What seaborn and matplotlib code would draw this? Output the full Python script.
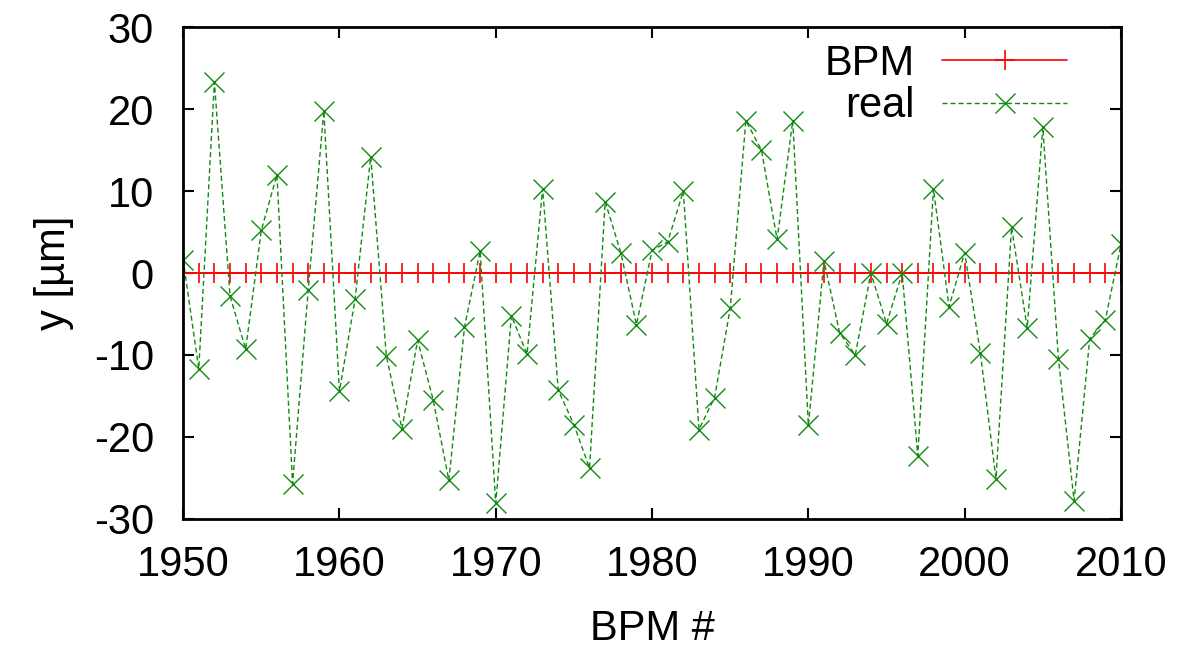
import numpy as np
import pandas as pd
import seaborn as sns
import matplotlib
matplotlib.use("Agg")
import matplotlib.pyplot as plt

# numero do BPM
bpm_num = list(range(1950, 2011))

# leitura do BPM (tudo zero)
bpm_y = [0.0] * len(bpm_num)

# posicao real [um]
real_y = [1.6, -11.7, 23.3, -2.8, -9.3, 5.2, 12.0, -25.7, -2.1, 19.8,
          -14.4, -3.2, 14.2, -10.1, -19.0, -8.2, -15.5, -25.3, -6.6, 2.7,
          -28.1, -5.2, -9.9, 10.3, -14.3, -18.5, -23.8, 8.7, 2.5, -6.3,
          2.75, 3.8, 10.0, -19.1, -15.2, -4.3, 18.6, 15.0, 4.1, 18.6,
          -18.6, 1.5, -7.3, -10.0, 0.0, -6.2, 0.0, -22.3, 10.3, -4.1,
          2.5, -9.7, -25.1, 5.6, -6.7, 17.8, -10.5, -27.8, -8.0, -5.7,
          3.5]

x_ticks = [1950, 1960, 1970, 1980, 1990, 2000, 2010]
y_ticks = [-30, -20, -10, 0, 10, 20, 30]


def montar_dados():
    """Monta o dataframe com as duas series."""
    return pd.DataFrame({'bpm': bpm_num, 'BPM': bpm_y, 'real': real_y})


def criar_grafico(df):
    sns.set_style('ticks')
    plt.rcParams['font.family'] = ['Liberation Sans', 'DejaVu Sans']
    plt.rcParams['axes.unicode_minus'] = False
    plt.rcParams['text.color'] = 'black'
    plt.rcParams['axes.labelcolor'] = 'black'
    plt.rcParams['xtick.color'] = 'black'
    plt.rcParams['ytick.color'] = 'black'

    fig = plt.figure(figsize=(11.97, 6.47), dpi=100)
    ax = fig.add_axes([0.153, 0.198, 0.7835, 0.760])

    verde = '#108a10'
    sns.lineplot(data=df, x='bpm', y='BPM', ax=ax, color='#ff0000',
                 linewidth=1.2, marker='+', markersize=15, markeredgewidth=1.2,
                 markeredgecolor='#ff0000', label='BPM')
    sns.lineplot(data=df, x='bpm', y='real', ax=ax, color=verde,
                 linewidth=1.0, linestyle=(0, (3.6, 2.2)), marker='x',
                 markersize=15, markeredgewidth=1.0, markeredgecolor=verde,
                 label='real')

    ax.set_xlim(1950, 2010)
    ax.set_ylim(-30, 30)
    ax.set_xticks(x_ticks)
    ax.set_yticks(y_ticks)
    ax.tick_params(direction='in', length=8, width=1.5, labelsize=30,
                   top=True, right=True)
    ax.tick_params(axis='x', pad=19)
    ax.tick_params(axis='y', pad=21)
    for s in ax.spines.values():
        s.set_visible(True)
        s.set_linewidth(2)
        s.set_color('black')
    ax.set_xlabel('BPM #', fontsize=30, labelpad=17)
    ax.set_ylabel('y [\u00b5m]', fontsize=30, labelpad=14)

    ax.legend(loc='upper right', bbox_to_anchor=(0.974, 1.026), frameon=False,
              markerfirst=False, fontsize=30, handlelength=3.0,
              numpoints=1, labelspacing=0.07, handletextpad=0.67,
              borderaxespad=0.3)

    fig.savefig('out.png', dpi=100)


def main():
    df = montar_dados()
    criar_grafico(df)


if __name__ == "__main__":
    main()
